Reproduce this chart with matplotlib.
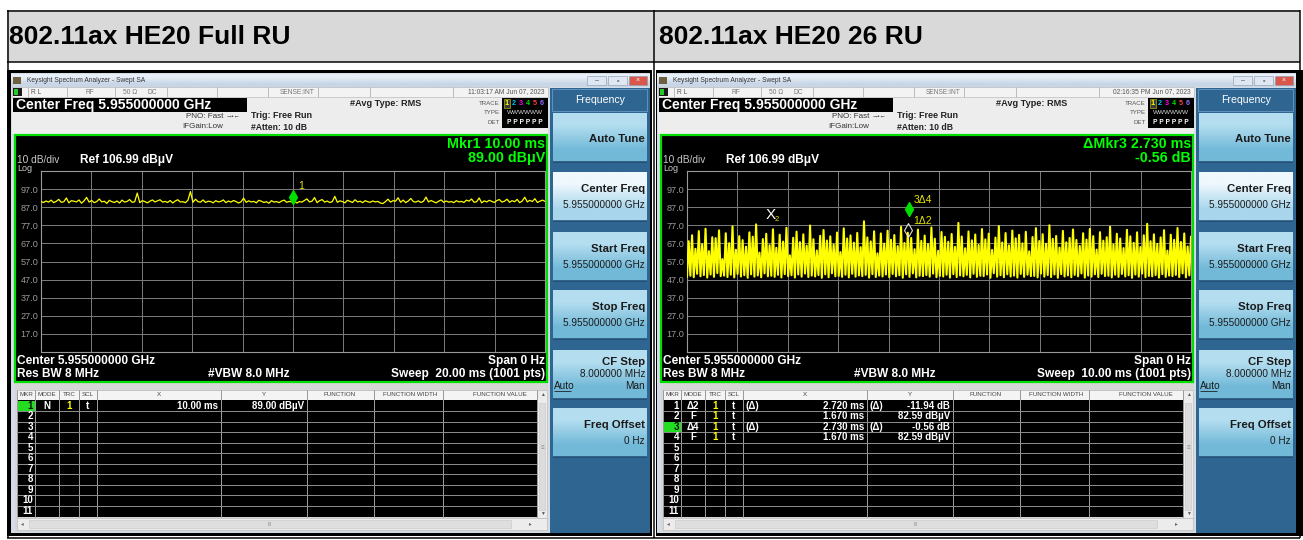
import numpy as np
import matplotlib.pyplot as plt
from matplotlib.patches import Rectangle
from matplotlib.path import Path
from matplotlib.colors import to_rgb

plt.rcParams['font.family'] = ['Liberation Sans', 'DejaVu Sans']

W, H = 1303, 540

# ---- values ----
titles = ["802.11ax HE20 Full RU", "802.11ax HE20 26 RU"]
stamps = ["11:03:17 AM Jun 07, 2023", "02:16:35 PM Jun 07, 2023"]
sweep_ms = [20.0, 10.0]
sweep_text = ["Sweep  20.00 ms (1001 pts)", "Sweep  10.00 ms (1001 pts)"]
readout = [["Mkr1 10.00 ms", "89.00 dBμV"], ["ΔMkr3 2.730 ms", "-0.56 dB"]]
ref_level = 106.99
grid_labels = ["97.0", "87.0", "77.0", "67.0", "57.0", "47.0", "37.0", "27.0", "17.0"]

# trace level (dBµV) across the sweep, Full RU
full_ru = [
    90.1, 89.6, 90.4, 89.8, 90.9, 89.5, 90.2, 91.3, 89.7, 90.0, 92.1, 89.4, 90.6, 90.3, 89.9, 91.0, 89.2, 90.5, 92.4, 89.8,
    90.7, 89.5, 90.1, 91.5, 89.9, 90.3, 89.1, 90.8, 90.0, 89.6, 90.4, 89.3, 90.9, 89.8, 90.2, 91.2, 89.7, 90.0, 94.8, 89.5,
    90.6, 90.1, 89.4, 90.3, 91.0, 89.9, 90.5, 91.1, 89.8, 90.2, 89.6, 90.7, 89.3, 90.4, 91.1, 89.9, 90.0, 89.5, 90.8, 95.6,
    89.7, 91.4, 90.0, 89.8, 91.0, 89.6, 90.3, 90.1, 89.4, 90.6, 89.9, 90.2, 91.0, 89.5, 90.4, 89.8, 90.7, 90.1, 89.3, 90.0,
    92.0, 89.7, 90.5, 89.9, 90.2, 89.4, 90.8, 90.3, 89.6, 90.0, 89.2, 90.6, 89.8, 90.1, 89.5, 90.4, 90.9, 89.7, 90.2, 89.9,
    90.5, 89.3, 90.1, 89.8, 90.7, 91.6, 89.9, 90.3, 92.3, 89.5, 90.6, 91.2, 89.8, 90.4, 89.6, 90.0, 93.0, 89.7, 90.5, 90.1,
    89.4, 90.8, 90.2, 89.6, 91.1, 89.9, 90.3, 89.5, 90.6, 90.0, 89.7, 90.4, 89.9, 90.2, 89.3, 89.0, 90.1, 91.4, 89.8, 90.6,
    90.3, 92.2, 89.7, 90.9, 89.5, 90.4, 91.8, 90.1, 89.8, 90.5, 89.6, 90.2, 92.6, 89.9, 90.7, 90.0, 89.4, 90.3, 91.0, 89.7,
    90.4, 89.8, 90.1, 89.5, 90.6, 89.9, 90.2, 89.6, 90.9, 90.3, 91.5, 89.7, 90.0, 92.1, 89.4, 90.5, 89.9, 90.8, 90.2, 89.6,
    90.7, 91.2, 89.8, 90.3, 91.4, 89.7, 90.6, 90.0, 91.3, 89.5, 90.4, 92.5, 89.9, 90.8, 90.1, 91.7, 89.6, 90.3, 90.9, 90.2,
]

# trace level (dBµV) across the sweep, 26 RU (bursty)
ru26 = [
    48.6, 68.2, 49.1, 71.5, 48.3, 64.0, 50.2, 73.8, 48.8, 66.5, 49.5, 75.1, 48.1, 62.7, 49.8, 70.4, 48.5, 69.9, 50.6, 74.2,
    48.9, 58.3, 49.2, 72.6, 48.4, 67.1, 49.7, 76.4, 48.2, 63.5, 50.1, 71.0, 48.7, 68.8, 49.4, 65.2, 48.0, 73.1, 49.9, 70.7,
    48.6, 77.5, 49.3, 61.9, 48.3, 69.4, 50.4, 72.3, 48.8, 66.0, 49.1, 74.8, 48.5, 64.6, 49.6, 71.8, 48.2, 68.0, 50.0, 75.6,
    48.9, 60.4, 49.4, 70.1, 48.1, 73.5, 49.8, 67.7, 48.6, 72.0, 50.3, 65.8, 48.4, 76.9, 49.2, 69.3, 48.7, 63.1, 49.5, 71.2,
    48.0, 74.4, 49.9, 68.6, 48.3, 70.9, 50.5, 66.3, 48.8, 73.0, 49.0, 62.2, 48.5, 75.3, 49.7, 69.7, 48.2, 71.4, 50.2, 67.4,
    48.6, 72.8, 49.3, 64.9, 48.9, 79.2, 49.6, 70.3, 48.1, 68.1, 50.0, 73.7, 48.4, 61.5, 49.2, 72.5, 48.7, 66.9, 49.8, 74.0,
    48.3, 69.0, 50.1, 71.6, 48.8, 65.5, 49.4, 76.1, 48.0, 67.2, 49.9, 72.9, 48.5, 70.0, 50.4, 63.8, 48.2, 74.6, 49.1, 68.4,
    48.9, 71.3, 49.5, 66.6, 48.6, 75.8, 50.3, 69.6, 48.3, 62.9, 49.0, 73.3, 48.7, 70.6, 49.7, 67.9, 48.1, 72.2, 50.0, 65.1,
    48.4, 78.3, 49.3, 70.8, 48.8, 64.3, 49.6, 73.6, 48.2, 68.7, 50.2, 71.9, 48.5, 66.1, 49.1, 74.9, 48.9, 69.2, 49.8, 72.4,
    48.0, 63.4, 50.5, 70.2, 48.6, 76.6, 49.4, 67.5, 48.3, 72.7, 49.9, 65.9, 48.7, 74.1, 49.2, 69.8, 48.1, 71.7, 50.1, 67.0,
    48.5, 73.4, 49.7, 62.6, 48.9, 70.5, 49.0, 75.4, 48.2, 68.3, 50.3, 72.1, 48.6, 66.8, 49.5, 77.0, 48.4, 69.5, 49.8, 71.1,
    48.0, 64.7, 50.0, 73.9, 48.7, 67.6, 49.3, 70.0, 48.3, 74.7, 49.6, 68.9, 48.8, 65.6, 50.4, 72.6, 48.1, 69.1, 49.2, 75.0,
    48.6, 71.0, 49.9, 63.6, 48.4, 73.2, 50.2, 68.5, 48.9, 70.4, 49.1, 76.2, 48.2, 66.4, 49.7, 72.3, 48.5, 69.7, 50.1, 64.4,
    48.7, 74.5, 49.4, 70.9, 48.0, 67.3, 49.8, 73.1, 48.6, 65.0, 50.3, 71.5, 48.3, 77.8, 49.0, 68.2, 48.8, 72.0, 49.5, 66.7,
    48.1, 70.3, 50.0, 74.3, 48.5, 63.0, 49.2, 71.8, 48.9, 69.0, 49.6, 75.5, 48.4, 67.8, 50.4, 72.5, 48.2, 65.3, 49.3, 70.6,
]

# marker table rows: MKR, MODE, TRC, SCL, X prefix, X, Y prefix, Y
table_full = [["1", "N", "1", "t", "", "10.00 ms", "", "89.00 dBµV"]]
table_26 = [
    ["1", "Δ2", "1", "t", "(Δ)", "2.720 ms", "(Δ)", "-11.94 dB"],
    ["2", "F", "1", "t", "", "1.670 ms", "", "82.59 dBµV"],
    ["3", "Δ4", "1", "t", "(Δ)", "2.730 ms", "(Δ)", "-0.56 dB"],
    ["4", "F", "1", "t", "", "1.670 ms", "", "82.59 dBµV"],
]
active_mkr = [1, 3]

# markers on the traces: time (ms), level (dBµV)
mk_full = [10.0, 89.00]
mk26_fixed = [1.670, 82.59]
mk26_d4 = [1.670 + 2.730, 82.59 - 0.56]
mk26_d2 = [1.670 + 2.720, 82.59 - 11.94]

menu_keys = [["Auto Tune", ""], ["Center Freq", "5.955000000 GHz"], ["Start Freq", "5.955000000 GHz"],
             ["Stop Freq", "5.955000000 GHz"], ["CF Step", "8.000000 MHz"], ["Freq Offset", "0 Hz"]]

fig = plt.figure(figsize=(W / 100, H / 100), dpi=100)
ax0 = fig.add_axes([0, 0, 1, 1])
ax0.axis('off')


def box(x0, y0, x1, y1, fc, ec='none', lw=0, z=1):
    ax0.add_patch(Rectangle((x0, y0), x1 - x0, y1 - y0, facecolor=fc, edgecolor=ec,
                            linewidth=lw * 0.72, zorder=z))


def grad(x0, y0, x1, y1, c0, c1, z=1):
    a = np.array([to_rgb(c0), to_rgb(c1)])[:, None, :]
    ax0.imshow(a, extent=(x0, x1, y1, y0), aspect='auto', interpolation='bilinear', zorder=z)


def txt(x, y, s, size, color='black', ha='left', bold=False, z=6):
    ax0.text(x, y, s, fontsize=size, color=color, ha=ha, va='center',
             fontweight='bold' if bold else 'normal', zorder=z)


def line(xs, ys, color, lw=1, z=3):
    ax0.plot(xs, ys, color=color, lw=lw * 0.72, zorder=z, solid_capstyle='butt')


# marker shape: diamond with its tip on the trace point
tip_diamond = Path([(0, 0), (0.6, 1.05), (0, 2.1), (-0.6, 1.05), (0, 0)],
                   [Path.MOVETO, Path.LINETO, Path.LINETO, Path.LINETO, Path.CLOSEPOLY])

# ---- table frame and title row ----
box(7, 10, 1300, 62, '#d9d9d9', z=0.5)
line([7, 1300], [10.5, 10.5], 'black', 1.5)
line([7, 1300], [62, 62], 'black', 1.5)
line([7.5, 7.5], [10, 538], 'black', 1.5)
line([1299.5, 1299.5], [10, 538], 'black', 1.5)
line([654, 654], [10, 538], 'black', 1.5)
line([7, 1300], [537.5, 537.5], 'black', 1.5)
txt(9, 37, titles[0], 19, bold=True)
txt(659, 37, titles[1], 19, bold=True)
box(7, 70, 652, 536, 'black', z=0.8)
box(656, 70, 1303, 536, 'black', z=0.8)


def draw_screen(k, trace, table, sel):
    dx = 646 * k
    # window chrome
    box(11 + dx, 73, 650 + dx, 533, '#d4dce6')
    grad(11 + dx, 74, 650 + dx, 87, '#e8eff8', '#c8d6e6')
    box(13 + dx, 77, 21 + dx, 84, '#6e5f3e', z=2)
    txt(27 + dx, 80.5, "Keysight Spectrum Analyzer - Swept SA", 4.8, '#333333')
    for bx0, bx1, bc, g in [(587, 606, '#dfe8f2', '–'), (608, 627, '#dfe8f2', '▫'), (629, 647, '#d9574a', '×')]:
        box(bx0 + dx, 76, bx1 + dx, 85, bc, '#8a9bb0', 0.6, 2)
        txt((bx0 + bx1) / 2 + dx, 80.5, g, 5, '#444444' if g != '×' else 'white', ha='center')

    # status line
    box(12 + dx, 87, 548 + dx, 97, '#f3f3f3', '#b5b5b5', 0.6, 2)
    for sx in [28, 67, 115, 167, 217, 268, 318, 370, 453]:
        line([sx + dx, sx + dx], [87, 97], '#bcbcbc', 1)
    box(13 + dx, 88, 22 + dx, 96, '#1a1a1a', z=3)
    box(14 + dx, 89, 18 + dx, 95, '#28c828', z=3)
    txt(31 + dx, 92, "R L", 4.8, '#555555')
    txt(86 + dx, 92, "RF", 4.8, '#777777')
    txt(123 + dx, 92, "50 Ω", 4.8, '#777777')
    txt(147 + dx, 92, "DC", 4.8, '#777777')
    txt(315 + dx, 92, "SENSE:INT", 4.8, '#777777', ha='right')
    txt(545 + dx, 92, stamps[k], 4.8, '#555555', ha='right')

    # setup header
    box(12 + dx, 97, 548 + dx, 134, '#ededed', z=1.5)
    box(13 + dx, 98, 247 + dx, 112, 'black', z=2)
    txt(16 + dx, 105, "Center Freq 5.955000000 GHz", 10, 'white', bold=True)
    txt(223 + dx, 117, "PNO: Fast", 5.8, '#333333', ha='right')
    txt(226 + dx, 117, "→•←", 4.5, '#333333')
    txt(223 + dx, 127, "IFGain:Low", 5.8, '#333333', ha='right')
    txt(251 + dx, 116, "Trig: Free Run", 6.5, '#222222', bold=True)
    txt(251 + dx, 127, "#Atten: 10 dB", 6.2, '#222222', bold=True)
    txt(350 + dx, 104, "#Avg Type: RMS", 6.6, '#222222', bold=True)
    txt(500 + dx, 103.5, "TRACE", 4.4, '#555555', ha='right')
    txt(500 + dx, 113, "TYPE", 4.4, '#555555', ha='right')
    txt(500 + dx, 122, "DET", 4.4, '#555555', ha='right')
    box(502 + dx, 98, 548 + dx, 128, 'black', z=2)
    box(503.5 + dx, 99, 510 + dx, 108, '#3a3a3a', '#c8c800', 0.6, 2.5)
    for i, c in enumerate(['#ffff00', '#00c8ff', '#ff00ff', '#00e000', '#ff4040', '#8c6cff']):
        txt(506.8 + dx + 7 * i, 103.8, str(i + 1), 5.2, c, ha='center', bold=True)
    txt(525 + dx, 113, "WWWWWW", 4.6, '#d8d8d8', ha='center')
    txt(525 + dx, 122, "P P P P P P", 4.8, 'white', ha='center', bold=True)

    # measurement screen
    box(15 + dx, 135, 547 + dx, 382, 'black', '#00e000', 2.2, 2)
    txt(17 + dx, 160, "10 dB/div", 7.3, '#c8c8c8')
    txt(17 + dx, 168.5, "Log", 6.5, '#c8c8c8')
    txt(80 + dx, 160, "Ref 106.99 dBμV", 8.6, 'white', bold=True)
    txt(545 + dx, 144, readout[k][0], 10.3, '#00ff00', ha='right', bold=True)
    txt(545 + dx, 158, readout[k][1], 10.3, '#00ff00', ha='right', bold=True)
    txt(17 + dx, 361, "Center 5.955000000 GHz", 8.6, 'white', bold=True)
    txt(17 + dx, 374, "Res BW 8 MHz", 8.6, 'white', bold=True)
    txt(208 + dx, 374, "#VBW 8.0 MHz", 8.6, 'white', bold=True)
    txt(545 + dx, 361, "Span 0 Hz", 8.6, 'white', ha='right', bold=True)
    txt(545 + dx, 374, sweep_text[k], 8.6, 'white', ha='right', bold=True)

    # marker table
    box(15 + dx, 383, 548 + dx, 532, '#d6d6d6', z=1.5)
    box(17 + dx, 390, 537 + dx, 400, '#f4f4f4', '#b0b0b0', 0.6, 2)
    box(17 + dx, 400, 537 + dx, 517, 'black', z=2)
    cols = [17, 35, 59, 79, 97, 221, 307, 374, 443, 537]
    heads = ["MKR", "MODE", "TRC", "SCL", "X", "Y", "FUNCTION", "FUNCTION WIDTH", "FUNCTION VALUE"]
    hx = [26, 47, 69, 88, 159, 264, 340, 410, 500]
    for cx in cols:
        line([cx + dx, cx + dx], [390, 517], '#9a9a9a', 1, 3)
    for h, x in zip(heads, hx):
        txt(x + dx, 395, h, 4.5, '#444444', ha='center')
    for j in range(1, 11):
        line([17 + dx, 537 + dx], [400.5 + 10.5 * j, 400.5 + 10.5 * j], '#8a8a8a', 1, 3)
    for j in range(11):
        yc = 405.8 + 10.5 * j
        if j + 1 == sel:
            box(18 + dx, yc - 5, 35 + dx, yc + 5, '#22dd22', z=4)
        txt(33 + dx, yc, str(j + 1), 7, '#111111' if j + 1 == sel else 'white', ha='right', bold=True)
    for j, row in enumerate(table):
        yc = 405.8 + 10.5 * j
        txt(47 + dx, yc, row[1], 7, 'white', ha='center', bold=True)
        txt(69 + dx, yc, row[2], 7, '#ffff00', ha='center', bold=True)
        txt(88 + dx, yc, row[3], 7, 'white', ha='center', bold=True)
        txt(100 + dx, yc, row[4], 7, 'white', bold=True)
        txt(218 + dx, yc, row[5], 7, 'white', ha='right', bold=True)
        txt(224 + dx, yc, row[6], 7, 'white', bold=True)
        txt(304 + dx, yc, row[7], 7, 'white', ha='right', bold=True)
    # scroll bars
    box(537 + dx, 390, 547 + dx, 518, '#ececec', '#b8b8b8', 0.6, 2)
    box(539 + dx, 403, 545 + dx, 510, '#dcdcdc', '#c4c4c4', 0.5, 2.5)
    txt(542 + dx, 395, "▲", 3.5, '#555555', ha='center')
    txt(542 + dx, 513, "▼", 3.5, '#555555', ha='center')
    txt(542 + dx, 448, "≡", 4.5, '#888888', ha='center')
    box(17 + dx, 518, 547 + dx, 530, '#ececec', '#b8b8b8', 0.6, 2)
    box(29 + dx, 520, 511 + dx, 528, '#dedede', '#c4c4c4', 0.5, 2.5)
    txt(22 + dx, 524, "◂", 4, '#666666', ha='center')
    txt(530 + dx, 524, "▸", 4, '#666666', ha='center')
    txt(270 + dx, 524, "III", 3.5, '#888888', ha='center')

    # softkey menu
    box(550 + dx, 88, 650 + dx, 533, '#2f6591', z=1.5)
    box(552 + dx, 89, 647 + dx, 111, '#2f6591', '#6d9cc4', 0.8, 2)
    txt(600 + dx, 100, "Frequency", 7.6, 'white', ha='center')
    tops = [113, 172, 232, 290, 350, 408]
    for b, (name, val) in enumerate(menu_keys):
        top = tops[b]
        if b == 1:
            grad(553 + dx, top, 647 + dx, top + 49, '#eef8fd', '#a9d6ec', 2)
        else:
            grad(553 + dx, top, 647 + dx, top + 49, '#b4def0', '#72b9d8', 2)
        line([553 + dx, 647 + dx], [top + 49, top + 49], '#1f4a70', 1.5, 3)
        if b == 0:
            txt(645 + dx, top + 26, name, 8.2, '#1a1a1a', ha='right', bold=True)
        elif b == 4:
            txt(645 + dx, top + 12, name, 8.2, '#1a1a1a', ha='right', bold=True)
            txt(645 + dx, top + 24, val, 7.2, '#1a1a1a', ha='right')
            txt(554 + dx, top + 36, "Auto", 7.2, '#1a1a1a')
            line([554 + dx, 571 + dx], [top + 41, top + 41], '#1a1a1a', 0.8, 4)
            txt(645 + dx, top + 36, "Man", 7.2, '#1a1a1a', ha='right')
        else:
            txt(645 + dx, top + 17, name, 8.2, '#1a1a1a', ha='right', bold=True)
            txt(645 + dx, top + 33, val, 7.2, '#1a1a1a', ha='right')

    # graticule with the trace
    x0, x1, y0, y1 = 41 + dx, 545 + dx, 171, 352
    ax = fig.add_axes([x0 / W, 1 - y1 / H, (x1 - x0) / W, (y1 - y0) / H])
    ax.set_facecolor('black')
    ax.set_xlim(0, sweep_ms[k])
    ax.set_ylim(ref_level - 100, ref_level)
    ax.set_xticks(np.linspace(0, sweep_ms[k], 11))
    ax.set_xticklabels([])
    ax.set_yticks(ref_level - 10 * np.arange(1, 10))
    ax.set_yticklabels(grid_labels)
    ax.tick_params(length=0, labelsize=6.6, labelcolor='#9a9a9a', pad=2)
    ax.grid(color='#7c7c7c', lw=0.7)
    for s in ax.spines.values():
        s.set_color('#9a9a9a')
        s.set_linewidth(0.8)
    t = np.linspace(0, sweep_ms[k], len(trace))
    ax.plot(t, trace, color='#ffff00', lw=1.5 if k == 1 else 0.9, zorder=3)
    return ax


axL = draw_screen(0, full_ru, table_full, active_mkr[0])
axR = draw_screen(1, ru26, table_26, active_mkr[1])

# markers
axL.plot([mk_full[0]], [mk_full[1]], marker=tip_diamond, ms=20, color='#00e000', ls='none', zorder=5)
axL.annotate("1", (mk_full[0], mk_full[1]), xytext=(5.8, 12.7), textcoords='offset points',
             color='#e6e600', fontsize=7.5, ha='center', va='center', zorder=6)

axR.plot([mk26_d2[0]], [mk26_d2[1]], marker=tip_diamond, ms=20, mfc='none', mec='#dddddd',
         mew=0.8, ls='none', zorder=5)
axR.plot([mk26_d4[0]], [mk26_d4[1]], marker=tip_diamond, ms=20, color='#00e000', ls='none', zorder=5)
axR.annotate("3Δ4", (mk26_d4[0], mk26_d4[1]), xytext=(3.6, 11.9), textcoords='offset points',
             color='#e6e600', fontsize=7.5, ha='left', va='center', zorder=6)
axR.annotate("1Δ2", (mk26_d2[0], mk26_d2[1]), xytext=(3.6, 11.7), textcoords='offset points',
             color='#e6e600', fontsize=7.5, ha='left', va='center', zorder=6)
axR.text(mk26_fixed[0], mk26_fixed[1], "X", color='white', fontsize=11, ha='center', va='center', zorder=6)
axR.annotate("2", (mk26_fixed[0], mk26_fixed[1]), xytext=(4.3, -2.9), textcoords='offset points',
             color='#e6e600', fontsize=5.5, ha='center', va='center', zorder=6)

ax0.set_xlim(0, W)
ax0.set_ylim(H, 0)
fig.savefig('out.png', dpi=100)
